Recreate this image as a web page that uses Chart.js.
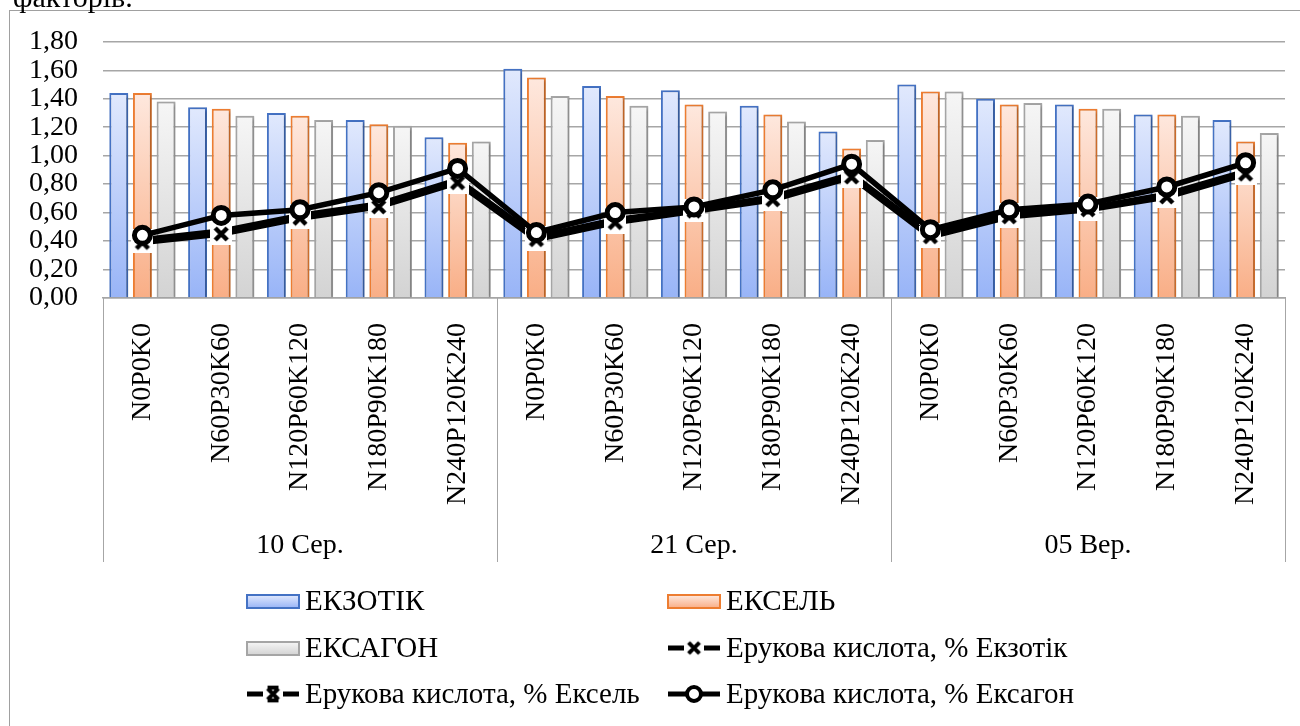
<!DOCTYPE html>
<html>
<head>
<meta charset="utf-8">
<script src="https://cdn.jsdelivr.net/npm/chart.js@4/dist/chart.umd.min.js"></script>
<style>
  body { margin: 0; background: #fff; overflow: hidden; font-family: "Liberation Serif", serif; }
  #wrap { position: relative; width: 1300px; height: 726px; }
  #above { position: absolute; left: 13px; top: -18px; font: 30px/30px "Liberation Serif", serif; color: #000; z-index: 2; }
  canvas { position: absolute; left: 0; top: 0; }
</style>
</head>
<body>
<div id="wrap">
  <div id="above">факторів.</div>
  <canvas id="chart" width="1300" height="726"></canvas>
</div>
<script>
// data
var groups = ["10 Сер.", "21 Сер.", "05 Вер."];
var doses = ["N0P0K0", "N60P30K60", "N120P60K120", "N180P90K180", "N240P120K240"];

var ekzotik = [1.44, 1.34, 1.30, 1.25, 1.13, 1.61, 1.49, 1.46, 1.35, 1.17, 1.50, 1.40, 1.36, 1.29, 1.25];
var eksel   = [1.44, 1.33, 1.28, 1.22, 1.09, 1.55, 1.42, 1.36, 1.29, 1.05, 1.45, 1.36, 1.33, 1.29, 1.10];
var eksagon = [1.38, 1.28, 1.25, 1.21, 1.10, 1.42, 1.35, 1.31, 1.24, 1.11, 1.45, 1.37, 1.33, 1.28, 1.16];

var erukEkzotik = [0.39, 0.45, 0.56, 0.64, 0.81, 0.41, 0.53, 0.61, 0.69, 0.85, 0.43, 0.57, 0.62, 0.71, 0.87];
var erukEksel   = [0.41, 0.47, 0.58, 0.66, 0.83, 0.43, 0.55, 0.62, 0.71, 0.87, 0.45, 0.59, 0.63, 0.73, 0.89];
var erukEksagon = [0.44, 0.58, 0.62, 0.74, 0.91, 0.46, 0.60, 0.64, 0.76, 0.94, 0.48, 0.62, 0.66, 0.78, 0.95];

var yTicks = [0, 0.2, 0.4, 0.6, 0.8, 1.0, 1.2, 1.4, 1.6, 1.8];

var labels = [];
groups.forEach(function(g) { doses.forEach(function(d) { labels.push(d); }); });

var FONT = '"Liberation Serif", serif';

function barFill(top, bottom) {
    return function(ctx) {
        var c = ctx.chart;
        var y = c.scales && c.scales.y;
        if (!y || ctx.raw == null) return bottom;
        var y0 = y.getPixelForValue(ctx.raw), y1 = y.getPixelForValue(0);
        if (!isFinite(y0) || !isFinite(y1) || y0 === y1) return bottom;
        var g = c.ctx.createLinearGradient(0, y0, 0, y1);
        g.addColorStop(0, top);
        g.addColorStop(1, bottom);
        return g;
    };
}

// markers with white square behind, like Office draws them
function makeMarker(star) {
    var cv = document.createElement("canvas");
    cv.width = 22; cv.height = 22;
    var c = cv.getContext("2d");
    c.fillStyle = "#fff";
    c.fillRect(0, 0, 22, 22);
    c.strokeStyle = "#000";
    c.lineWidth = 4.5;
    c.beginPath();
    c.moveTo(5, 5); c.lineTo(17, 17);
    c.moveTo(17, 5); c.lineTo(5, 17);
    if (star) {
        c.moveTo(5, 4); c.lineTo(17, 4);
        c.moveTo(5, 18); c.lineTo(17, 18);
    }
    c.stroke();
    return cv;
}
var markX = makeMarker(false);
var markStar = makeMarker(true);

var swatches = [
    { top: "#e1e9fd", bottom: "#98b4f7", border: "#4472c4" },
    { top: "#fee8de", bottom: "#f9ae86", border: "#ed7d31" },
    { top: "#f6f6f6", bottom: "#d3d3d3", border: "#a5a5a5" }
];

var barShadow = {
    id: "barShadow",
    beforeDatasetDraw: function(chart, args) {
        if (args.meta.type !== "bar") return;
        var ctx = chart.ctx;
        ctx.save();
        ctx.shadowColor = "rgba(0,0,0,0.3)";
        ctx.shadowBlur = 3;
        ctx.shadowOffsetX = 2;
        ctx.shadowOffsetY = 1;
    },
    afterDatasetDraw: function(chart, args) {
        if (args.meta.type !== "bar") return;
        chart.ctx.restore();
    }
};

var extras = {
    id: "extras",
    beforeDraw: function(chart) {
        var ctx = chart.ctx;
        ctx.save();
        ctx.strokeStyle = "#a0a0a0";
        ctx.lineWidth = 1;
        ctx.strokeRect(9.5, 10.5, 1400, 900);
        ctx.restore();
    },
    afterDraw: function(chart) {
        var ctx = chart.ctx;
        var x = chart.scales.x;
        var area = chart.chartArea;
        var per = doses.length;
        var step = x.getPixelForTick(1) - x.getPixelForTick(0);
        var bottom = area.bottom + 264;
        ctx.save();
        // group separators and group labels
        ctx.strokeStyle = "#a6a6a6";
        ctx.lineWidth = 1;
        ctx.beginPath();
        for (var g = 0; g <= groups.length; g++) {
            var px = g < groups.length ? x.getPixelForTick(g * per) - step / 2 : x.getPixelForTick(g * per - 1) + step / 2;
            px = Math.round(px) + 0.5;
            ctx.moveTo(px, area.bottom);
            ctx.lineTo(px, bottom);
        }
        ctx.stroke();
        ctx.fillStyle = "#000";
        ctx.font = "28px " + FONT;
        ctx.textAlign = "center";
        ctx.textBaseline = "middle";
        groups.forEach(function(name, g) {
            var cx = (x.getPixelForTick(g * per) + x.getPixelForTick(g * per + per - 1)) / 2;
            ctx.fillText(name, cx, 546);
        });

        // legend, two columns
        var colX = [247, 668];
        var rowY = [601, 648, 694];
        chart.data.datasets.forEach(function(ds, i) {
            var lx = colX[i % 2], ly = rowY[Math.floor(i / 2)];
            if (ds.type === "line") {
                ctx.strokeStyle = "#000";
                ctx.lineWidth = 5;
                ctx.beginPath();
                ctx.moveTo(lx, ly); ctx.lineTo(lx + 52, ly);
                ctx.stroke();
                if (ds.pointStyle === "circle") {
                    ctx.beginPath();
                    ctx.arc(lx + 26, ly, 7, 0, Math.PI * 2);
                    ctx.fillStyle = "#fff";
                    ctx.fill();
                    ctx.lineWidth = 4;
                    ctx.stroke();
                } else {
                    ctx.drawImage(ds.pointStyle, lx + 26 - 10, ly - 10, 20, 20);
                }
            } else {
                var s = swatches[i];
                var gr = ctx.createLinearGradient(0, ly - 6, 0, ly + 7);
                gr.addColorStop(0, s.top);
                gr.addColorStop(1, s.bottom);
                ctx.fillStyle = gr;
                ctx.fillRect(lx, ly - 6, 52, 13);
                ctx.strokeStyle = s.border;
                ctx.lineWidth = 2;
                ctx.strokeRect(lx, ly - 6, 52, 13);
            }
            ctx.fillStyle = "#000";
            ctx.font = "29px " + FONT;
            ctx.textAlign = "left";
            ctx.textBaseline = "middle";
            ctx.fillText(ds.label, lx + 58, ly + 1);
        });
        ctx.restore();
    }
};

function barSet(label, data, s) {
    return {
        type: "bar",
        label: label,
        data: data,
        backgroundColor: barFill(s.top, s.bottom),
        borderColor: s.border,
        borderWidth: 2,
        borderSkipped: "bottom",
        categoryPercentage: 0.9,
        barPercentage: 0.8,
        order: 2
    };
}

function lineSet(label, data, style, order) {
    var circle = style === "circle";
    return {
        type: "line",
        label: label,
        data: data,
        borderColor: "#000",
        borderWidth: 5.5,
        tension: 0,
        pointStyle: style,
        pointRadius: circle ? 8 : 11,
        pointBorderWidth: circle ? 5 : 0,
        pointBackgroundColor: "#fff",
        pointBorderColor: "#000",
        order: order
    };
}

function draw() {
    Chart.defaults.font.family = FONT;
    new Chart(document.getElementById("chart"), {
        data: {
            labels: labels,
            datasets: [
                barSet("ЕКЗОТІК", ekzotik, swatches[0]),
                barSet("ЕКСЕЛЬ", eksel, swatches[1]),
                barSet("ЕКСАГОН", eksagon, swatches[2]),
                lineSet("Ерукова кислота, % Екзотік", erukEkzotik, markX, 1),
                lineSet("Ерукова кислота, % Ексель", erukEksel, markStar, 1),
                lineSet("Ерукова кислота, % Ексагон", erukEksagon, "circle", 0)
            ]
        },
        options: {
            responsive: false,
            devicePixelRatio: 1,
            animation: false,
            layout: { padding: { left: 0, top: 39, right: 15, bottom: 164 } },
            plugins: {
                legend: { display: false },
                tooltip: { enabled: false }
            },
            scales: {
                x: {
                    grid: { display: false },
                    border: { display: true, color: "#a6a6a6", width: 1.5 },
                    ticks: {
                        color: "#000",
                        font: { family: FONT, size: 28 },
                        minRotation: 90,
                        maxRotation: 90,
                        autoSkip: false,
                        padding: 17
                    },
                    afterFit: function(s) { s.height = 264; }
                },
                y: {
                    min: 0,
                    max: 1.8,
                    afterBuildTicks: function(s) { s.ticks = yTicks.map(function(v) { return { value: v }; }); },
                    grid: { color: "#a6a6a6", lineWidth: 1.5, drawTicks: false },
                    border: { display: false },
                    ticks: {
                        color: "#000",
                        font: { family: FONT, size: 28 },
                        autoSkip: false,
                        padding: 25,
                        callback: function(v) { return v.toFixed(2).replace(".", ","); }
                    },
                    afterFit: function(s) { s.width = 103; }
                }
            }
        },
        plugins: [barShadow, extras]
    });
}

if (document.fonts && document.fonts.load) {
    document.fonts.load('28px "Liberation Serif"').then(draw, draw);
} else {
    draw();
}
</script>
</body>
</html>
